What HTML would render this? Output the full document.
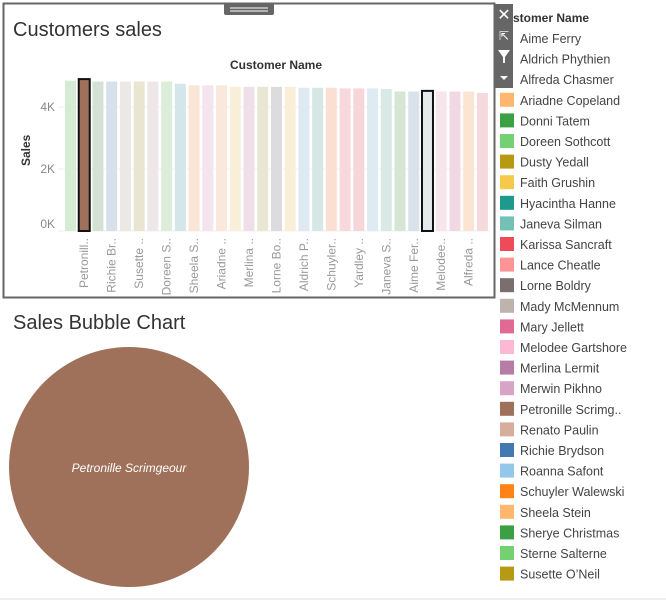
<!DOCTYPE html>
<html><head><meta charset="utf-8">
<style>
body{margin:0;width:666px;height:600px;background:#fff;font-family:"Liberation Sans",sans-serif;overflow:hidden;position:relative}
</style></head><body>
<svg width="666" height="600" xmlns="http://www.w3.org/2000/svg" style="position:absolute;left:0;top:0">
<rect x="3.5" y="3.5" width="491" height="294" fill="none" stroke="#666" stroke-width="2"/>
<rect x="224" y="3" width="50" height="12" rx="2" fill="#666"/>
<line x1="230" y1="8" x2="268" y2="8" stroke="#fff" stroke-width="1"/>
<line x1="230" y1="11" x2="268" y2="11" stroke="#fff" stroke-width="1"/>
<text x="13" y="36" font-size="20" fill="#333">Customers sales</text>
<text x="276" y="69" font-size="12" font-weight="bold" text-anchor="middle" fill="#333">Customer Name</text>
<text transform="translate(30,166) rotate(-90)" font-size="12" font-weight="bold" fill="#333">Sales</text>
<g id="ticks"></g>
<g id="bars"></g>
<g id="xlabels"></g>
<rect x="495" y="4" width="18" height="84" fill="#666"/>
<text x="504" y="20" font-size="16" fill="#fff" text-anchor="middle">✕</text>
<text x="504" y="40" font-size="12" fill="#fff" text-anchor="middle">⇱</text>
<path d="M498,50 L510,50 L505,57 L505,63 L503,63 L503,57 Z" fill="#fff"/>
<path d="M500,76 L508,76 L504,80 Z" fill="#fff"/>
<text x="513" y="22" font-size="12" font-weight="bold" fill="#333">stomer Name</text>
<g id="legend"></g>
<text x="13" y="329" font-size="20" fill="#333">Sales Bubble Chart</text>
<circle cx="129" cy="467" r="120" fill="#a0715a"/>
<text x="129" y="472" font-size="12" font-style="italic" fill="#fff" text-anchor="middle">Petronille Scrimgeour</text>
<line x1="0" y1="599" x2="666" y2="599" stroke="#ddd"/>
</svg>
<script>
const barValues=[4.85,4.9,4.82,4.82,4.82,4.82,4.82,4.82,4.75,4.7,4.7,4.7,4.65,4.65,4.65,4.65,4.65,4.62,4.62,4.62,4.6,4.6,4.6,4.58,4.5,4.5,4.52,4.5,4.5,4.5,4.45];
const barColors=["#d5ebd3","#a0715a","#d3e2d3","#d7e1ec","#ebe8e6","#e9e5d1","#eee7ea","#dcedda","#d4e6e9","#fbe5d6","#f3e4ee","#fbe8dc","#f9efd8","#efdfe9","#e9e6d3","#dddbdd","#f9efd8","#dfe9f1","#d6e7e5","#fadfd2","#f8d8dc","#f6d6d9","#dfebf2","#d9e9e6","#d6e6d4","#d9e1eb","#e3ebeb","#f6e6ec","#f1d8e2","#fbe4d1","#f6d9dc"];
const tickValues=[0,2,4];
const tickLabels=["0K","2K","4K"];
const xLabels=["Petronill..","Richie Br..","Susette ..","Doreen S..","Sheela S..","Ariadne ..","Merlina ..","Lorne Bo..","Aldrich P..","Schuyler..","Yardley ..","Janeva S..","Aime Fer..","Melodee..","Alfreda .."];
const legendNames=["Aime Ferry","Aldrich Phythien","Alfreda Chasmer","Ariadne Copeland","Donni Tatem","Doreen Sothcott","Dusty Yedall","Faith Grushin","Hyacintha Hanne","Janeva Silman","Karissa Sancraft","Lance Cheatle","Lorne Boldry","Mady McMennum","Mary Jellett","Melodee Gartshore","Merlina Lermit","Merwin Pikhno","Petronille Scrimg..","Renato Paulin","Richie Brydson","Roanna Safont","Schuyler Walewski","Sheela Stein","Sherye Christmas","Sterne Salterne","Susette O’Neil"];
const legendColors=[null,null,null,"#ffb66e","#3aa043","#74d171","#b89a12","#f5c94a","#1e9a8c","#73c0b4","#ef4a5a","#fb9596","#7b6e6e","#beb3ad","#e16a94","#fbb9d4","#b77ca6","#d9a3c8","#a0715a","#d6ae9b","#4379b2","#93c8ea","#ff8214","#ffb66e","#3aa043","#74d171","#b89a12"];
const NS="http://www.w3.org/2000/svg";
const y0=231, pxPerK=31, x0=65, pitch=13.73, bw=11;
const ys=v=>y0-v*pxPerK;
const xs=i=>x0+i*pitch;
function mk(t,a){const e=document.createElementNS(NS,t);for(const k in a)e.setAttribute(k,a[k]);return e;}
const tg=document.getElementById('ticks');
tickValues.forEach((v,i)=>{
 const g=mk('line',{x1:58,x2:490,y1:ys(v),y2:ys(v),stroke:'#f0f0f0'});
 
 
 tg.appendChild(g);
 const t=mk('text',{x:55,y:ys(v)+(v===0?-3:4),'font-size':12,fill:'#888','text-anchor':'end'});
 t.textContent=tickLabels[i];
 
 
 tg.appendChild(t);
});
const bg=document.getElementById('bars');
barValues.forEach((v,i)=>{
 const sel=(i===1||i===26);
 const r=mk('rect',{x:xs(i),y:ys(v),width:bw,height:ys(0)-ys(v),fill:barColors[i%barColors.length]});
 if(sel){r.setAttribute('stroke','#111');r.setAttribute('stroke-width','2');}
 
 
 bg.appendChild(r);
});
const xg=document.getElementById('xlabels');
xLabels.forEach((s,i)=>{
 const cx=xs(1+2*i)+bw/2+4;
 const t=mk('text',{transform:`translate(${cx},238) rotate(-90)`,'font-size':12,fill:'#999','text-anchor':'end'});
 t.textContent=s;
 
 
 xg.appendChild(t);
});
const lg=document.getElementById('legend');
legendNames.forEach((n,i)=>{
 const y=38+i*20.6;
 const g=mk('g',{});
 
 
 if(legendColors[i]) g.appendChild(mk('rect',{x:500,y:y-7,width:14,height:14,fill:legendColors[i]}));
 const t=mk('text',{x:520,y:y+5,'font-size':12.5,fill:'#444'});
 t.textContent=n;
 g.appendChild(t);
 lg.appendChild(g);
});
</script>
</body></html>
